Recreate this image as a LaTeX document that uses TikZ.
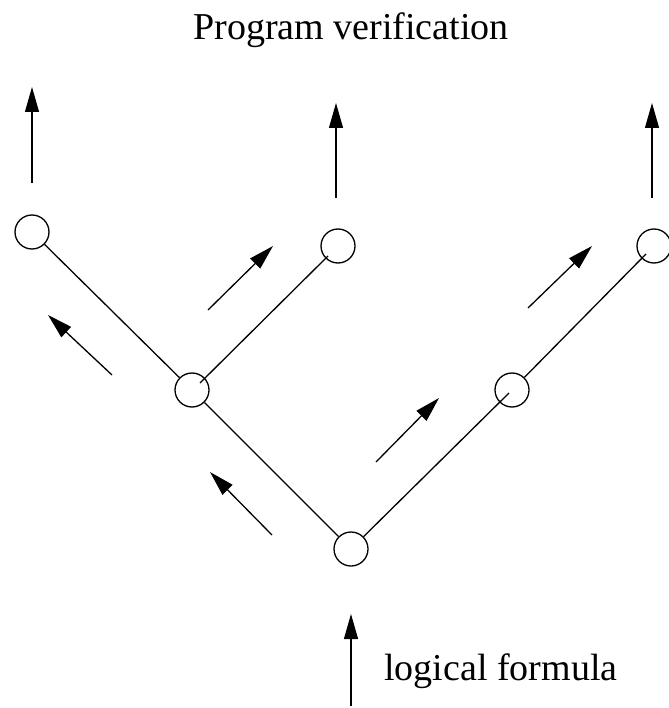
\documentclass[tikz,border=0pt]{standalone}
\usepackage{fontspec}
\setmainfont{Liberation Serif}
\usetikzlibrary{arrows.meta,calc}
\begin{document}
\begin{tikzpicture}[x=1pt,y=-1pt,
  vtx/.style={circle,draw,line width=1.3pt,minimum size=34pt,inner sep=0pt},
  edge/.style={line width=1.3pt},
  flow/.style={line width=1.3pt,-{Triangle[length=25pt,width=14pt]}},
  lbl/.style={font=\fontsize{38}{44}\selectfont,inner sep=0pt}]
\useasboundingbox (0,0) rectangle (668,708);
% vertices
\node[vtx] (A) at (32,232) {};
\node[vtx] (B) at (338,246) {};
\node[vtx] (C) at (654,246) {};
\node[vtx] (D) at (192,390) {};
\node[vtx] (E) at (512,390) {};
\node[vtx] (F) at (351,549) {};
% edges
\coordinate (d1) at ($(D.center)+(8,-7)$);
\coordinate (b1) at ($(B.center)+(-10,10)$);
\coordinate (e1) at ($(E.center)+(-3,3)$);
\coordinate (c1) at ($(C.center)+(-8,8)$);
\draw[edge] (A) -- (D);
\draw[edge] (d1) -- (b1);
\draw[edge] (D) -- (F);
\draw[edge] (F) -- (e1);
\draw[edge] (E) -- (c1);
% arrows
\coordinate (a1s) at (32,183); \coordinate (a1e) at (32,87);
\coordinate (a2s) at (336,198); \coordinate (a2e) at (336,103);
\coordinate (a3s) at (652,198); \coordinate (a3e) at (652,103);
\coordinate (a4s) at (208,310); \coordinate (a4e) at (273,246);
\coordinate (a5s) at (112,375); \coordinate (a5e) at (48,315);
\coordinate (a6s) at (272,535); \coordinate (a6e) at (210,472);
\coordinate (a7s) at (376,462); \coordinate (a7e) at (439,398);
\coordinate (a8s) at (528,308); \coordinate (a8e) at (592,246);
\coordinate (a9s) at (351,706); \coordinate (a9e) at (351,614);
\foreach \i in {1,...,9} \draw[flow] (a\i s) -- (a\i e);
% labels
\node[lbl,anchor=base] (top) at (351,40) {Program verification};
\node[lbl,anchor=base west] (bot) at (384,680) {logical formula};
\end{tikzpicture}
\end{document}
